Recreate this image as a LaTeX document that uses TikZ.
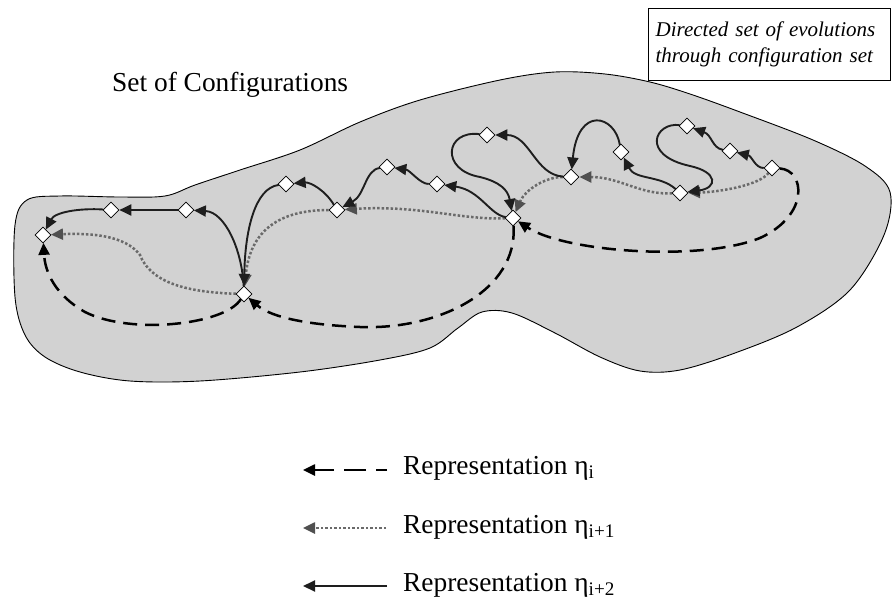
\documentclass[tikz,border=0pt]{standalone}
\usepackage{fontspec}
\setmainfont{Liberation Serif}
\usetikzlibrary{shapes.geometric,arrows.meta}
\pgfdeclarelayer{bg}
\pgfsetlayers{bg,main}
\definecolor{blobgray}{HTML}{D2D2D2}
\definecolor{solidcol}{HTML}{1E1E1E}
\definecolor{dotcol}{HTML}{6A6A6A}
\definecolor{dottip}{HTML}{505050}
\tikzset{
  config/.style={diamond, draw=black, fill=white, line width=0.6pt, inner sep=0pt, minimum width=16pt, minimum height=16pt},
  solidedge/.style={draw=solidcol, line width=1.9pt, -{Triangle[length=12pt,width=11pt]}},
  dotedge/.style={draw=dotcol, line width=2.5pt, dash pattern=on 2.5pt off 2pt, -{Triangle[length=12pt,width=11pt,color=dottip]}},
  dashedge/.style={draw=black, line width=2.5pt, dash pattern=on 14pt off 8pt, -{Triangle[length=12pt,width=11pt]}},
  bigtext/.style={font=\fontsize{27.4}{30}\selectfont, inner sep=0pt, anchor=base west},
}
\begin{document}
\begin{tikzpicture}[x=1pt,y=-1pt]
\useasboundingbox (0,0) rectangle (892,605);
% configurations
\node[config] (A) at (43,235) {};
\node[config] (B) at (111,210) {};
\node[config] (C) at (186,210) {};
\node[config] (D) at (244,294) {};
\node[config] (E) at (286,184) {};
\node[config] (F) at (337,210) {};
\node[config] (G) at (387,167) {};
\node[config] (G2) at (437,184) {};
\node[config] (H) at (513,218) {};
\node[config] (I) at (487,135) {};
\node[config] (J) at (571,177) {};
\node[config] (K) at (621,152) {};
\node[config] (L) at (687,126) {};
\node[config] (M) at (730,151) {};
\node[config] (N) at (772,168) {};
\node[config] (O) at (680,193) {};
% titles
\node[bigtext] (title) at (112,91) {Set of Configurations};
\node[draw=black, line width=1.3pt, anchor=north west, minimum width=242pt, minimum height=72pt,
      text width=228pt, inner xsep=7pt, align=left,
      font=\fontsize{21}{26}\selectfont\itshape] (box) at (648,8)
      {Directed set of evolutions\\through configuration set};
% legend
\coordinate (l1a) at (303,470); \coordinate (l1b) at (387,470);
\coordinate (l2a) at (303,528); \coordinate (l2b) at (386,528);
\coordinate (l3a) at (303,586); \coordinate (l3b) at (387,586);
\node[bigtext] (t1) at (403,474) {Representation η\textsubscript{i}};
\node[bigtext] (t2) at (403,533) {Representation η\textsubscript{i+1}};
\node[bigtext] (t3) at (403,591) {Representation η\textsubscript{i+2}};
\draw[dashedge, dash pattern=on 11pt off 10pt on 22pt off 10pt on 40pt] (l1b) -- (l1a);
\draw[dotedge] (l2b) -- (l2a);
\draw[solidedge] (l3b) -- (l3a);
\begin{pgfonlayer}{bg}
\fill[blobgray] plot[smooth cycle, tension=0.55] coordinates {
 (15,225) (27,200) (60,196) (120,197) (165,196) (195,185) (240,170) (300,150)
 (360,122) (420,100) (500,80) (555,72) (605,74) (650,82) (690,94) (740,112)
 (813,140) (865,166) (890,192) (884,235) (850,290) (797,327) (735,353) (680,370)
 (640,371) (600,357) (555,333) (512,313) (482,312) (458,328) (430,348) (380,360)
 (300,372) (200,381) (130,381) (80,372) (45,357) (25,335) (15,297)};
\draw[black, line width=0.9pt] plot[smooth cycle, tension=0.55] coordinates {
 (15,225) (27,200) (60,196) (120,197) (165,196) (195,185) (240,170) (300,150)
 (360,122) (420,100) (500,80) (555,72) (605,74) (650,82) (690,94) (740,112)
 (813,140) (865,166) (890,192) (884,235) (850,290) (797,327) (735,353) (680,370)
 (640,371) (600,357) (555,333) (512,313) (482,312) (458,328) (430,348) (380,360)
 (300,372) (200,381) (130,381) (80,372) (45,357) (25,335) (15,297)};
% representation eta_i (dashed)
\draw[dashedge] (N) .. controls (805,170) and (810,215) .. (760,238) .. controls (700,262) and (565,252) .. (H);
\draw[dashedge] (H) .. controls (518,290) and (440,330) .. (360,327) .. controls (310,325) and (272,318) .. (D);
\draw[dashedge] (D) .. controls (225,325) and (130,335) .. (85,312) .. controls (55,295) and (45,272) .. (A);
% representation eta_{i+1} (dotted)
\draw[dotedge] (N) .. controls (760,185) and (720,192) .. (O);
\draw[dotedge] (O) .. controls (640,195) and (620,177) .. (J);
\draw[dotedge] (J) .. controls (545,177) and (525,190) .. (H);
\draw[dotedge] (H) .. controls (460,220) and (420,205) .. (F);
\draw[dotedge] (F) .. controls (280,210) and (250,230) .. (D);
\draw[dotedge] (D) .. controls (180,292) and (150,280) .. (140,255) .. controls (125,235) and (90,233) .. (A);
% representation eta_{i+2} (solid)
\draw[solidedge] (N) .. controls (755,168) and (752,156) .. (M);
\draw[solidedge] (M) .. controls (712,148) and (712,135) .. (L);
\draw[solidedge] (L) .. controls (655,122) and (640,155) .. (690,166) .. controls (718,172) and (718,188) .. (O);
\draw[solidedge] (O) .. controls (660,175) and (635,180) .. (K);
\draw[solidedge] (K) .. controls (615,115) and (578,105) .. (J);
\draw[solidedge] (J) .. controls (535,175) and (530,135) .. (I);
\draw[solidedge] (I) .. controls (445,130) and (440,170) .. (480,177) .. controls (500,182) and (508,190) .. (H);
\draw[solidedge] (H) .. controls (490,215) and (480,190) .. (G2);
\draw[solidedge] (G2) .. controls (420,184) and (410,170) .. (G);
\draw[solidedge] (G) .. controls (365,170) and (365,195) .. (F);
\draw[solidedge] (F) .. controls (325,190) and (310,182) .. (E);
\draw[solidedge] (E) .. controls (255,188) and (245,230) .. (D);
\draw[solidedge] (D) .. controls (242,250) and (225,212) .. (C);
\draw[solidedge] (C) -- (B);
\draw[solidedge] (B) .. controls (80,208) and (55,212) .. (A);
\end{pgfonlayer}
\end{tikzpicture}
\end{document}
